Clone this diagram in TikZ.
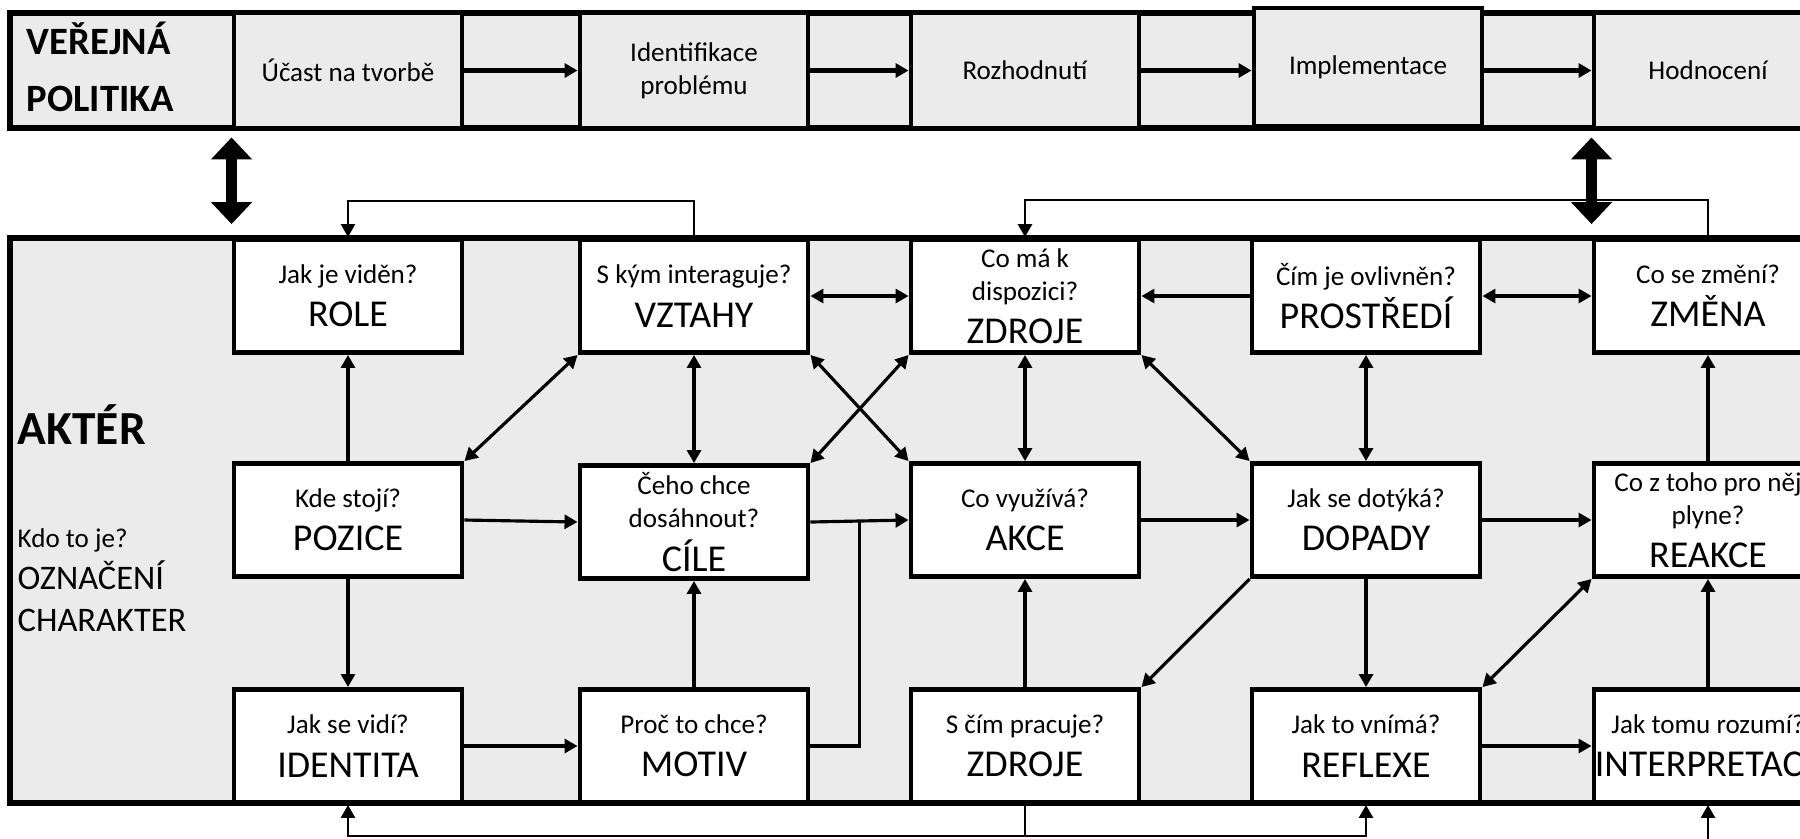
\documentclass[tikz,border=0pt]{standalone}
\usepackage{fontspec}
\setmainfont{Carlito}
\usetikzlibrary{arrows.meta,calc}

\newcommand{\qs}{\fontsize{7.7}{9.4}\selectfont\lineskiplimit=-20pt\relax}
\newcommand{\lbl}{\fontsize{10.8}{9}\selectfont}
\colorlet{bandgray}{black!8}

\begin{document}
\begin{tikzpicture}[x=0.1mm,y=-0.1mm,
  bandbox/.style={draw,line width=1.5pt,fill=bandgray,inner sep=0pt},
  stagebox/.style={draw,line width=1.4pt,fill=bandgray,minimum width=22.8mm,
                   minimum height=11.5mm,font=\qs,align=center,inner sep=0pt},
  qbox/.style={draw,line width=1.4pt,fill=white,minimum width=22.8mm,
               minimum height=11.3mm,font=\qs,align=center,inner sep=0pt},
  link/.style={line width=0.9pt,-{Triangle[length=1.3mm,width=1.4mm]}},
  duallink/.style={line width=0.9pt,
                   {Triangle[length=1.3mm,width=1.4mm]}-{Triangle[length=1.3mm,width=1.4mm]}},
  stagelink/.style={link,line width=1.2pt},
  fblink/.style={line width=0.8pt,-{Triangle[length=1.3mm,width=1.4mm]}},
  biglink/.style={line width=1.1mm,
                  {Triangle[length=2.2mm,width=4mm]}-{Triangle[length=2.2mm,width=4mm]}},
]
\useasboundingbox (0,0) rectangle (1800,838);
\clip (0,0) rectangle (1800,838);

% Policy band
\node[bandbox,minimum width=184mm,minimum height=11.5mm] (polband) at (930,70.5) {};
\node[anchor=north west,align=left,inner sep=0pt,
      font=\bfseries\fontsize{11}{16.4}\selectfont] (politika) at (26,21)
  {VEŘEJNÁ\\POLITIKA};

% Policy stages
\node[stagebox] (ucast)  at (348,70.5)  {Účast na tvorbě};
\node[stagebox] (ident)  at (694,70.5)  {Identifikace\\problému};
\node[stagebox] (rozhod) at (1025,70.5) {Rozhodnutí};
\node[stagebox,minimum height=11.8mm] (impl) at (1368,67) {Implementace};
\node[stagebox] (hodnot) at (1708,70.5) {Hodnocení};

\draw[stagelink] (ucast) -- (ident);
\draw[stagelink] (ident) -- (rozhod);
\draw[stagelink] (rozhod.east) -- (impl.west |- rozhod.east);
\draw[stagelink] (impl.east |- hodnot.west) -- (hodnot.west);

% Actor band
\node[bandbox,minimum width=184mm,minimum height=56.5mm] (aktband) at (930,520.5) {};
\node[anchor=base west,inner sep=0pt,font=\bfseries\fontsize{13.5}{15}\selectfont]
  (akter) at (17,444) {AKTÉR};
\node[anchor=north west,align=left,inner sep=0pt,font=\fontsize{9.8}{12}\selectfont]
  (oznac) at (17,528) {{\qs Kdo to je?}\\OZNAČENÍ\\CHARAKTER};

% Top row
\node[qbox] (role)    at (348,296)  {Jak je viděn?\\[2.9pt]\lbl ROLE};
\node[qbox] (vztahy)  at (694,296)  {S kým interaguje?\\[2.9pt]\lbl VZTAHY};
\node[qbox] (zdroje1) at (1025,296) {Co má k\\dispozici?\\[2.9pt]\lbl ZDROJE};
\node[qbox] (prostr)  at (1366,296) {Čím je ovlivněn?\\[2.9pt]\lbl PROSTŘEDÍ};
\node[qbox] (zmena)   at (1708,296) {Co se změní?\\[2.9pt]\lbl ZMĚNA};

% Middle row
\node[qbox] (pozice)  at (348,520)  {Kde stojí?\\[2.9pt]\lbl POZICE};
\node[qbox] (cile)    at (694,522)  {Čeho chce\\dosáhnout?\\[2.9pt]\lbl CÍLE};
\node[qbox] (akce)    at (1025,520) {Co využívá?\\[2.9pt]\lbl AKCE};
\node[qbox] (dopady)  at (1366,520) {Jak se dotýká?\\[2.9pt]\lbl DOPADY};
\node[qbox] (reakce)  at (1708,520) {Co z toho pro něj\\plyne?\\[2.9pt]\lbl REAKCE};

% Bottom row
\node[qbox] (identita) at (348,746)  {Jak se vidí?\\[2.9pt]\lbl IDENTITA};
\node[qbox] (motiv)    at (694,746)  {Proč to chce?\\[2.9pt]\lbl MOTIV};
\node[qbox] (zdroje2)  at (1025,746) {S čím pracuje?\\[2.9pt]\lbl ZDROJE};
\node[qbox] (reflexe)  at (1366,746) {Jak to vnímá?\\[2.9pt]\lbl REFLEXE};
\node[qbox] (interpr)  at (1708,746) {Jak tomu rozumí?\\[2.9pt]\lbl INTERPRETACE};

% Links between actor boxes
\draw[link] (pozice) -- (role);
\draw[link] (pozice) -- (identita);
\draw[link] (pozice.east) -- (cile.west);
\draw[duallink] (pozice.north east) -- (vztahy.south west);
\draw[duallink] (vztahy) -- (cile);
\draw[duallink] (vztahy) -- (zdroje1);
\draw[duallink] (vztahy.south east) -- (akce.north west);
\draw[duallink] (zdroje1.south west) -- (cile.north east);
\draw[duallink] (zdroje1) -- (akce);
\draw[duallink] (zdroje1.south east) -- (dopady.north west);
\draw[link] (prostr) -- (zdroje1);
\draw[duallink] (prostr) -- (zmena);
\draw[duallink] (prostr) -- (dopady);
\draw[link] (reakce) -- (zmena);
\draw[link] (cile.east) -- (akce.west);
\coordinate (spoj) at ($(cile.east)!0.5!(akce.west)$);
\draw[line width=0.9pt] (motiv.east) -| (spoj);
\draw[link] (motiv) -- (cile);
\draw[link] (identita) -- (motiv);
\draw[link] (akce) -- (dopady);
\draw[link] (dopady) -- (reakce);
\draw[link] (zdroje2) -- (akce);
\draw[link] (dopady.south west) -- (zdroje2.north east);
\draw[link] (dopady) -- (reflexe);
\draw[duallink] (reakce.south west) -- (reflexe.north east);
\draw[link] (interpr) -- (reakce);
\draw[link] (reflexe) -- (interpr);

% Feedback loops
\draw[fblink] (vztahy.north) -- ++(0,-36) -| (role.north);
\draw[fblink] (zmena.north) -- ++(0,-37) -| (zdroje1.north);
\coordinate (dole) at (1025,836);
\draw[line width=0.8pt] (zdroje2.south) -- (dole);
\draw[fblink] (dole) -| (identita.south);
\draw[fblink] (dole) -| (reflexe.south);
\coordinate (zdola) at (1708,850);
\draw[fblink] (zdola) -- (interpr.south);

% Policy <-> actor
\draw[biglink,shorten <=0.7mm,shorten >=1.3mm] (ucast.south west) -- (role.north west);
\draw[biglink,shorten <=0.7mm,shorten >=1.3mm] (hodnot.south west) -- (zmena.north west);

\end{tikzpicture}
\end{document}
